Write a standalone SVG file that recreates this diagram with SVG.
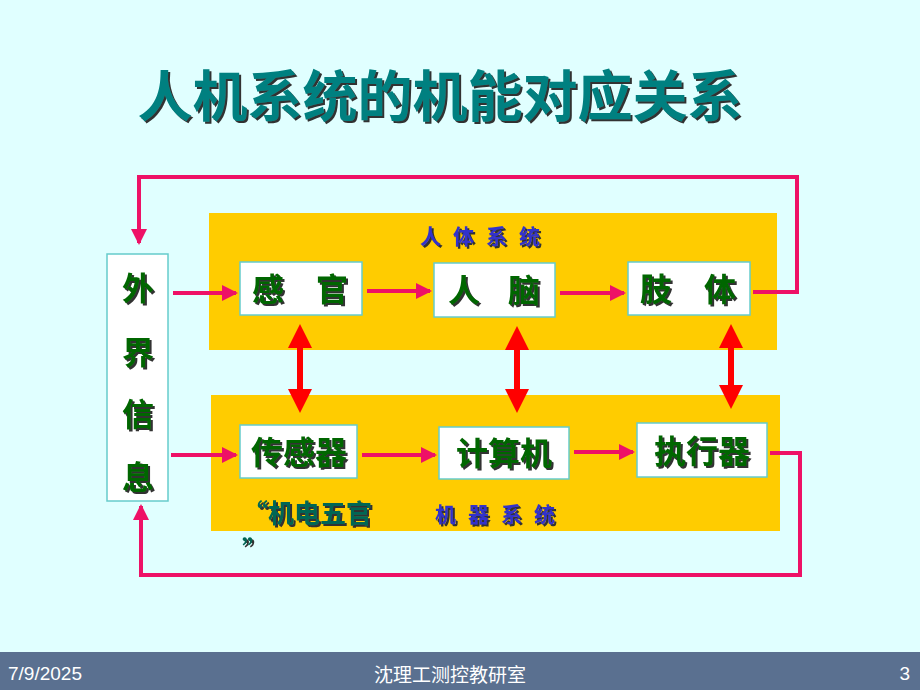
<svg xmlns="http://www.w3.org/2000/svg" width="920" height="690" viewBox="0 0 920 690">
<style>
.n{fill:#fff;stroke:#66cccc;stroke-width:1.5}
.t{font-family:"Noto Sans CJK SC",sans-serif;font-weight:bold;font-size:32px;fill:#006600;text-anchor:middle;filter:url(#s)}
.b{font-family:"Noto Sans CJK SC",sans-serif;font-weight:bold;font-size:21px;fill:#3333cc;filter:url(#s)}
.c{fill:none;stroke:#ee1166;stroke-width:4}
.r{stroke:#ff0000;stroke-width:6}
</style>
<defs>
<filter id="s" x="-10%" y="-10%" width="130%" height="130%"><feDropShadow dx="2" dy="2" stdDeviation="0" flood-color="#333"/></filter>
<marker id="a" markerWidth="4" markerHeight="4" refX="3.5" refY="2" orient="auto" markerUnits="strokeWidth"><path d="M0,0L4,2L0,4z" fill="#ee1166"/></marker>
<marker id="ra" markerWidth="4" markerHeight="4" refX="3" refY="2" orient="auto-start-reverse" markerUnits="strokeWidth"><path d="M0,0L4,2L0,4z" fill="#ff0000"/></marker>
</defs>
<rect width="920" height="690" fill="#e0ffff"/>
<rect x="0" y="652" width="920" height="38" fill="#5a7090"/>
<g font-family="Liberation Sans,sans-serif" font-size="19" fill="#fff">
<text x="8" y="680">7/9/2025</text>
<text x="450" y="682" text-anchor="middle" font-family="Noto Sans CJK SC,sans-serif">沈理工测控教研室</text>
<text x="910" y="680" text-anchor="end">3</text>
</g>
<g id="title"><text x="440" y="116" font-family="Noto Sans CJK SC,sans-serif" font-weight="bold" font-size="55" text-anchor="middle" fill="#008080" filter="url(#s)">人机系统的机能对应关系</text></g>
<rect x="209" y="213" width="568" height="137" fill="#ffcc00"/>
<rect x="211" y="395" width="569" height="136" fill="#ffcc00"/>
<g id="labels">
<text class="b" x="420" y="244" letter-spacing="12">人体系统</text>
<text class="b" x="435" y="522" letter-spacing="12">机器系统</text>
<text x="242" y="523" font-family="Noto Sans CJK SC,sans-serif" font-weight="bold" font-size="26" fill="#006655" filter="url(#s)">“机电五官</text>
<text x="242" y="560" font-family="Noto Sans CJK SC,sans-serif" font-weight="bold" font-size="26" fill="#006655" filter="url(#s)">”</text>
</g>
<g id="connectors">
<polyline class="c" points="753,292 797,292 797,177 139,177 139,243" marker-end="url(#a)"/>
<polyline class="c" points="770,453 800,453 800,575 141,575 141,506" marker-end="url(#a)"/>
<line class="c" x1="173" y1="293" x2="236" y2="293" marker-end="url(#a)"/>
<line class="c" x1="367" y1="291" x2="430" y2="291" marker-end="url(#a)"/>
<line class="c" x1="560" y1="293" x2="624" y2="293" marker-end="url(#a)"/>
<line class="c" x1="171" y1="455" x2="236" y2="455" marker-end="url(#a)"/>
<line class="c" x1="362" y1="455" x2="435" y2="455" marker-end="url(#a)"/>
<line class="c" x1="574" y1="452" x2="633" y2="452" marker-end="url(#a)"/>
<line class="r" x1="300" y1="330" x2="300" y2="407" marker-start="url(#ra)" marker-end="url(#ra)"/>
<line class="r" x1="517" y1="332" x2="517" y2="407" marker-start="url(#ra)" marker-end="url(#ra)"/>
<line class="r" x1="731" y1="330" x2="731" y2="403" marker-start="url(#ra)" marker-end="url(#ra)"/>
</g>
<g id="waijie"><rect class="n" x="107" y="254" width="61" height="247"/>
<g class="t"><text x="138" y="300">外</text><text x="138" y="364">界</text><text x="138" y="426">信</text><text x="138" y="489">息</text></g></g>
<g id="ganguan"><rect class="n" x="240" y="262" width="122" height="53"/><text class="t" x="301" y="301"><tspan x="268">感</tspan><tspan x="332">官</tspan></text></g>
<g id="rennao"><rect class="n" x="434" y="263" width="121" height="54"/><text class="t" x="495" y="302"><tspan x="464">人</tspan><tspan x="524">脑</tspan></text></g>
<g id="zhiti"><rect class="n" x="628" y="262" width="122" height="53"/><text class="t" x="689" y="301"><tspan x="656">肢</tspan><tspan x="720">体</tspan></text></g>
<g id="chuanganqi"><rect class="n" x="240" y="425" width="117" height="53"/><text class="t" x="299" y="464">传感器</text></g>
<g id="jisuanji"><rect class="n" x="439" y="427" width="130" height="52"/><text class="t" x="504" y="465">计算机</text></g>
<g id="zhixingqi"><rect class="n" x="637" y="423" width="130" height="54"/><text class="t" x="702" y="463">执行器</text></g>
</svg>
